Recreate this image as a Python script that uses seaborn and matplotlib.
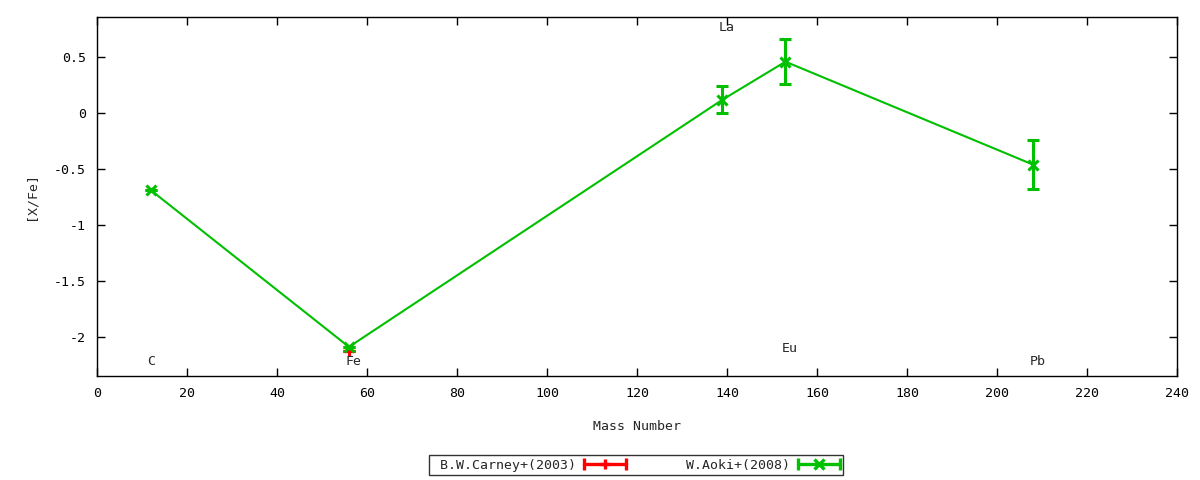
import matplotlib
matplotlib.use("Agg")
import matplotlib.pyplot as plt
import seaborn as sns
from matplotlib.lines import Line2D
from matplotlib.legend_handler import HandlerBase

# --- data ---
elements = ["C", "Fe", "La", "Eu", "Pb"]
aoki_mass = [12, 56, 139, 153, 208]
aoki_xfe = [-0.69, -2.09, 0.12, 0.46, -0.46]
aoki_err = [0.0, 0.0, 0.12, 0.20, 0.22]

carney_mass = [56]
carney_xfe = [-2.13]
carney_err = [0.0]

# element label anchors (x in mass number, y in [X/Fe])
label_x = [12, 57, 140, 154, 209]
label_y = [-2.22, -2.22, 0.77, -2.10, -2.22]

RED = "#ff0000"
GREEN = "#00c000"

sns.set_theme(style="ticks")
plt.rcParams["font.family"] = ["DejaVu Sans Mono", "DejaVu Sans"]
plt.rcParams["axes.unicode_minus"] = False


class ErrBarHandler(HandlerBase):
    # gnuplot style key sample: horizontal line, caps at both ends, point in middle
    def create_artists(self, legend, orig_handle, xdescent, ydescent,
                       width, height, fontsize, trans):
        y = height / 2 - ydescent
        c = orig_handle.get_color()
        x0, x1 = -xdescent, width - xdescent
        line = Line2D([x0, x1], [y, y], color=c, lw=2.4, transform=trans)
        caps = Line2D([x0, x1], [y, y], ls="none", marker="|", ms=8,
                      mew=2.4, color=c, transform=trans)
        mid = Line2D([(x0 + x1) / 2], [y], ls="none",
                     marker=orig_handle.get_marker(), ms=7, mew=2.4,
                     color=c, transform=trans)
        return [line, caps, mid]


fig = plt.figure(figsize=(12, 4.8), dpi=100)
ax = fig.add_axes([0.0808, 0.2167, 0.9, 0.748])

# B.W.Carney+(2003)
sns.lineplot(x=carney_mass, y=carney_xfe, ax=ax, color=RED, lw=1.5)
ax.errorbar(carney_mass, carney_xfe, yerr=carney_err, fmt="+", color=RED,
            ms=7, mew=2.2, elinewidth=2.2, capsize=4.5, capthick=2.2)

# W.Aoki+(2008)
sns.lineplot(x=aoki_mass, y=aoki_xfe, ax=ax, color=GREEN, lw=1.5)
ax.errorbar(aoki_mass, aoki_xfe, yerr=aoki_err, fmt="x", color=GREEN,
            ms=7, mew=2.2, elinewidth=2.2, capsize=4.5, capthick=2.2)

for name, lx, ly in zip(elements, label_x, label_y):
    ax.text(lx, ly, name, ha="center", va="center", fontsize=9.5)

ax.set_xlim(0, 240)
ax.set_ylim(-2.35, 0.86)
ax.set_xticks(range(0, 241, 20))
yt = [-2, -1.5, -1, -0.5, 0, 0.5]
ax.set_yticks(yt)
ax.set_yticklabels([f"{v:g}" for v in yt])
ax.tick_params(direction="in", length=6, width=1, top=True, right=True,
               labelsize=9.5, pad=8, colors="black")
for s in ax.spines.values():
    s.set_color("black")
    s.set_linewidth(1)

ax.set_xlabel("Mass Number", fontsize=9.5, labelpad=14)
ax.set_ylabel("[X/Fe]", fontsize=9.5, labelpad=12)

handles = [Line2D([], [], color=RED, marker="+"),
           Line2D([], [], color=GREEN, marker="x")]
leg = fig.legend(handles, [" B.W.Carney+(2003)", "W.Aoki+(2008)"],
                 handler_map={Line2D: ErrBarHandler()},
                 loc="center", bbox_to_anchor=(0.53, 0.031), ncol=2,
                 markerfirst=False, fancybox=False, frameon=True,
                 edgecolor="black", fontsize=9.5, handlelength=3.2,
                 columnspacing=4.5, borderpad=0.25, borderaxespad=0,
                 handletextpad=0.6)
leg.get_frame().set_linewidth(1)

fig.savefig("out.png", dpi=100)
